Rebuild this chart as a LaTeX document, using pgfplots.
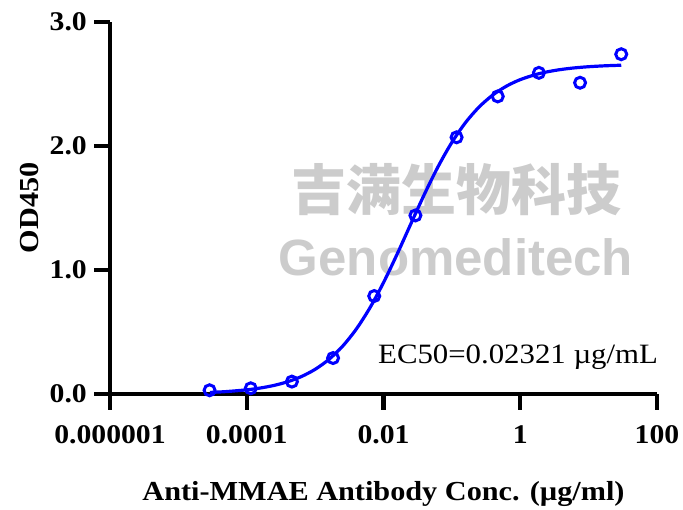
\documentclass[border=0pt]{standalone}
\usepackage{pgfplots}
\pgfplotsset{compat=1.18}
\usepackage{fontspec}
\setmainfont{Liberation Serif}[FakeStretch=1.1]
\newfontfamily\cjk{Noto Sans CJK SC}
\newfontfamily\wmfont{Liberation Sans}
\begin{document}
\begin{tikzpicture}
\path (-110pt,-115pt) rectangle (573pt,394pt);
\node[text=black!20, font=\cjk\bfseries\fontsize{55}{55}\selectfont] at (346pt,204pt) {吉满生物科技};
\node[text=black!20, font=\wmfont\bfseries\fontsize{51}{51}\selectfont] at (346pt,137pt) {Genomeditech};
\begin{axis}[
  scale only axis, width=547pt, height=372pt,
  xmode=log, xmin=1e-6, xmax=100, ymin=0, ymax=3,
  axis x line*=bottom, axis y line*=left,
  axis line style={line width=4.2pt, -},
  xtick={1e-6,1e-4,1e-2,1,100},
  xticklabels={0.000001,0.0001,0.01,1,100},
  ytick={0,1,2,3}, yticklabels={0.0,1.0,2.0,3.0},
  minor xtick={}, minor ytick={},
  tick align=outside, major tick length=16pt,
  tick style={line width=4.2pt, black},
  tick label style={font=\bfseries\fontsize{27}{27}\selectfont, inner sep=0pt},
  xticklabel style={anchor=north, yshift=-15pt},
  yticklabel style={anchor=east, xshift=-7pt},
  xlabel={Anti-MMAE Antibody Conc. (µg/ml)}, ylabel={OD450},
  label style={font=\bfseries\fontsize{27.5}{27.5}\selectfont},
  xlabel style={at={([yshift=-100pt]axis description cs:0.5,0)}, anchor=center},
  ylabel style={at={([xshift=-81pt]axis description cs:0,0.5)}, anchor=center},
  clip=false,
]
\addplot[blue, line width=3.2pt, smooth] coordinates {
(2.884e-5,0.0125) (5.012e-5,0.0195) (1e-4,0.0336) (1.585e-4,0.0484) (2.512e-4,0.0693)
(3.981e-4,0.0991) (6.310e-4,0.1408) (1e-3,0.1989) (1.585e-3,0.2782) (2.512e-3,0.3842)
(3.981e-3,0.5218) (6.310e-3,0.6936) (0.01,0.8983) (0.01585,1.1286) (0.02512,1.3720)
(0.03981,1.6126) (0.0631,1.8353) (0.1,2.0291) (0.1585,2.1891) (0.2512,2.3155)
(0.3981,2.4118) (0.631,2.4832) (1,2.5351) (1.778,2.5798) (3.162,2.6088)
(5.623,2.6275) (10,2.6394) (17.78,2.6470) (30,2.6514)
};
\addplot[only marks, blue, mark=o, mark size=5.5pt, mark options={line width=3pt}] coordinates {
(2.861e-5,0.03) (1.144e-4,0.046) (4.578e-4,0.10) (1.831e-3,0.29) (7.324e-3,0.79)
(0.0293,1.44) (0.1172,2.07) (0.4688,2.40) (1.875,2.59) (7.5,2.51) (30,2.74)
};
\end{axis}
\node[anchor=base west, inner sep=0pt, font=\fontsize{28}{28}\selectfont] at (268pt,30pt) {EC50=0.02321 µg/mL};
\end{tikzpicture}
\end{document}
